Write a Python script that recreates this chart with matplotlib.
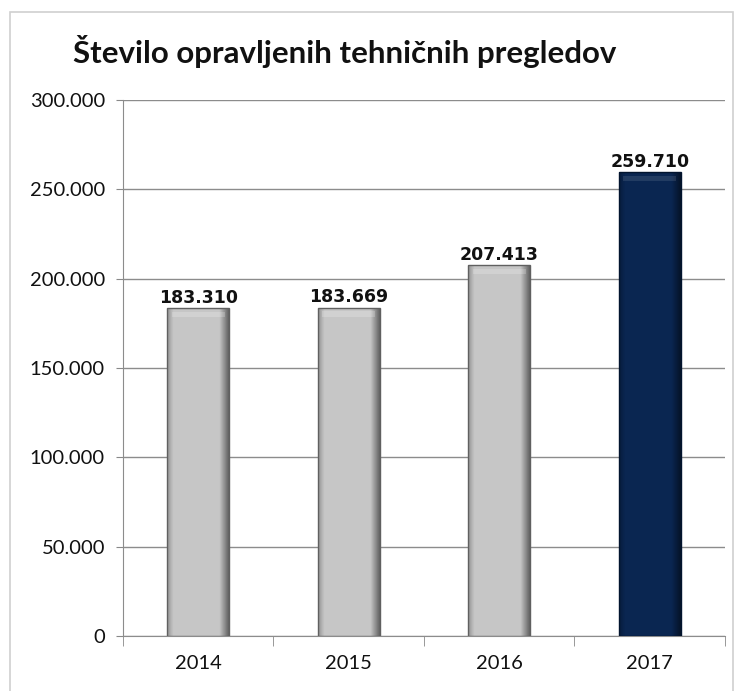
import numpy as np
import matplotlib.pyplot as plt
from matplotlib.patches import Rectangle

years = ['2014', '2015', '2016', '2017']
values = [183310, 183669, 207413, 259710]
labels = ['183.310', '183.669', '207.413', '259.710']
yticks = [0, 50000, 100000, 150000, 200000, 250000, 300000]
ytick_labels = ['0', '50.000', '100.000', '150.000', '200.000', '250.000', '300.000']

fig = plt.figure(figsize=(7.39, 6.91), dpi=100)
ax = fig.add_axes([0.1664, 0.0796, 0.8146, 0.7757])

# outer frame
fig.patches.append(Rectangle((10/739, -0.05), 723/739, 1.05 - 12/691, transform=fig.transFigure,
                             fill=False, edgecolor='#d0d0d0', lw=1.2))

x = np.arange(len(years))
width = 0.41
bars = ax.bar(x, values, width=width, color='none', edgecolor='none', zorder=3)

# horizontal shading for the bevelled look
t = np.linspace(0, 1, 80)
prof = 1.0 - 0.25 * np.clip((0.1 - t) / 0.1, 0, 1) - 0.5 * np.clip((t - 0.85) / 0.15, 0, 1)
for i, b in enumerate(bars):
    if i == 3:
        c0 = np.array([0.04, 0.15, 0.32])
    else:
        c0 = np.array([0.78, 0.78, 0.78])
    grad = np.clip(c0[None, :] * prof[:, None], 0, 1)
    img = grad[None, :, :]
    im = ax.imshow(img, extent=[b.get_x(), b.get_x() + b.get_width(), 0, b.get_height()],
                   aspect='auto', zorder=3, interpolation='bilinear')
    im.set_clip_path(b)
    # light bevel at the top
    ax.add_patch(Rectangle((b.get_x() + 0.03, b.get_height() - 5000), b.get_width() - 0.06, 3000,
                           color='white', alpha=0.2 if i < 3 else 0.1, lw=0, zorder=4))
    ax.add_patch(Rectangle((b.get_x(), 0), b.get_width(), b.get_height(), fill=False,
                           edgecolor='#606060' if i < 3 else '#02142e', lw=1.0, zorder=4))
    ax.text(x[i], values[i] + 800, labels[i], ha='center', va='bottom',
            fontsize=12.5, fontweight='bold', family='DejaVu Sans', color='#111111', zorder=5)

ax.set_xlim(-0.5, 3.5)
ax.set_ylim(0, 300000)
ax.set_yticks(yticks)
ax.set_yticklabels(ytick_labels, fontsize=14.5, family='Lato', color='#111111')
ax.set_xticks(x)
ax.set_xticklabels(years, fontsize=14.5, family='Lato', color='#111111')
ax.set_xticks(np.arange(-0.5, 4.0, 1.0), minor=True)
ax.tick_params(axis='x', which='major', length=0, pad=14)
ax.tick_params(axis='x', which='minor', length=7, color='#888888')
ax.tick_params(axis='y', length=5, color='#888888', pad=8)
ax.grid(axis='y', color='#8c8c8c', lw=1.0, zorder=0)
ax.set_axisbelow(True)
for s in ['top', 'right']:
    ax.spines[s].set_visible(False)
ax.spines['left'].set_color('#8c8c8c')
ax.spines['bottom'].set_color('#8c8c8c')

fig.text(345/739, 1 - 52/691, 'Število opravljenih tehničnih pregledov', ha='center', va='center',
         fontsize=22.5, fontweight='bold', family='Lato', color='#111111')

fig.savefig('out.png', dpi=100)
